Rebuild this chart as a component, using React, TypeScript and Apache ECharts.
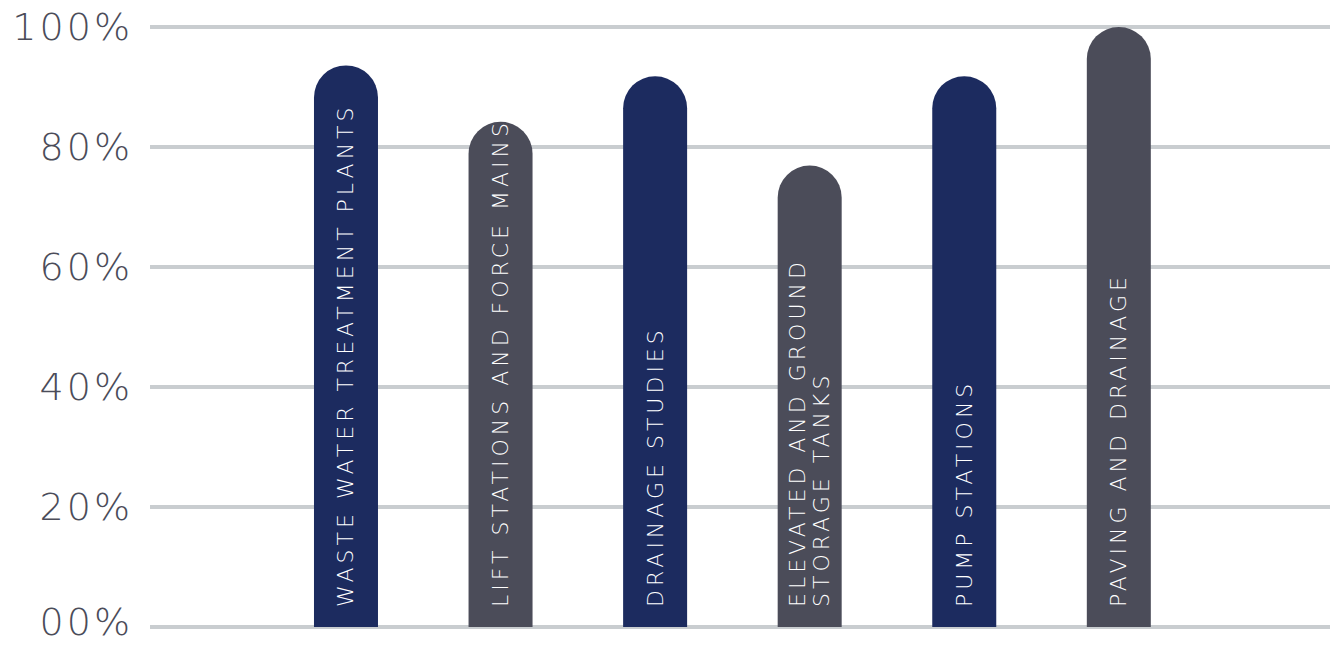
import React, { useEffect, useRef } from "react";
import * as echarts from "echarts";

const categories = [
  "WASTE WATER TREATMENT PLANTS",
  "LIFT STATIONS AND FORCE MAINS",
  "DRAINAGE STUDIES",
  "ELEVATED AND GROUND\nSTORAGE TANKS",
  "PUMP STATIONS",
  "PAVING AND DRAINAGE",
];
const values = [93.6, 84.2, 91.8, 76.9, 91.8, 100];
const barColors = ["#1c2b5f", "#4b4c59", "#1c2b5f", "#4b4c59", "#1c2b5f", "#4b4c59"];
const yTicks = [0, 20, 40, 60, 80, 100];
const yTickLabels = ["00%", "20%", "40%", "60%", "80%", "100%"];

const FONT = "'DejaVu Sans', Montserrat, sans-serif";

export default function App() {
  const ref = useRef<HTMLDivElement>(null);
  useEffect(() => {
    if (!ref.current) return;
    const chart = echarts.init(ref.current, undefined, { renderer: "svg" });
    const labelStyle = {
      fontSize: 38,
      fontFamily: FONT,
      fontWeight: 200,
      color: "#4b4c59",
    };
    chart.setOption({
      animation: false,
      backgroundColor: "#ffffff",
      grid: [
        { left: 150, right: 2, top: 27, bottom: 18, outerBoundsMode: "none", containLabel: false },
        { left: 268.7, right: 135.9, top: 27, bottom: 18, outerBoundsMode: "none", containLabel: false },
      ],
      xAxis: [
        { type: "value", gridIndex: 0, min: 0, max: 1, show: false },
        { type: "category", gridIndex: 1, data: categories, show: false },
      ],
      yAxis: [
        {
          type: "value",
          gridIndex: 0,
          min: 0,
          max: 100,
          interval: 20,
          axisLine: { show: false },
          axisTick: { show: false },
          axisLabel: {
            margin: 17,
            ...labelStyle,
            formatter: (v: number) => {
              const t = yTickLabels[yTicks.indexOf(v)] ?? "";
              return v === 0 ? "{n|" + t + "}\n{s| }" : "{n|" + t + "}";
            },
            rich: {
              n: { ...labelStyle, lineHeight: 38 },
              s: { fontSize: 1, lineHeight: 10 },
            },
          },
          splitLine: { lineStyle: { color: "#c9cdd0", width: 4 } },
        },
        { type: "value", gridIndex: 1, min: 0, max: 100, show: false, splitLine: { show: false } },
      ],
      series: [
        {
          type: "bar",
          xAxisIndex: 1,
          yAxisIndex: 1,
          barWidth: 64,
          data: values.map((v, i) => ({
            value: v,
            itemStyle: { color: barColors[i], borderRadius: [32, 32, 0, 0] },
          })),
          label: {
            show: true,
            position: "insideBottom",
            distance: 20,
            rotate: 90,
            align: "left",
            verticalAlign: "middle",
            color: "#ffffff",
            fontSize: 22,
            lineHeight: 24,
            fontFamily: FONT,
            fontWeight: 200,
            formatter: (p: any) => categories[p.dataIndex],
          },
        },
      ],
    });
    return () => chart.dispose();
  }, []);
  return (
    <>
      <style>{"#chart svg text{letter-spacing:3px} #chart svg text[style*='22px']{letter-spacing:4px}"}</style>
      <div
        id="chart"
        ref={ref}
        style={{ position: "fixed", left: 0, top: 0, width: 1332, height: 645 }}
      />
    </>
  );
}
